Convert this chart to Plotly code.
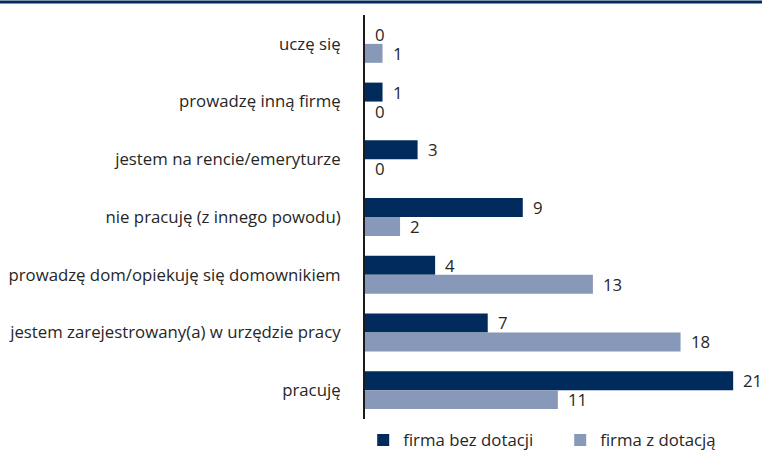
import plotly.graph_objects as go

categories = [
    "uczę się",
    "prowadzę inną firmę",
    "jestem na rencie/emeryturze",
    "nie pracuję (z innego powodu)",
    "prowadzę dom/opiekuję się domownikiem",
    "jestem zarejestrowany(a) w urzędzie pracy",
    "pracuję",
]
bez_dotacji = [0, 1, 3, 9, 4, 7, 21]
z_dotacja = [1, 0, 0, 2, 13, 18, 11]
series_names = ["firma bez dotacji", "firma z dotacją"]

DARK = "#002b5c"
LIGHT = "#8898b8"
TEXT = "#262626"
FONT = "Open Sans"
FS = 16.8

fig = go.Figure()
fig.add_trace(go.Bar(y=categories, x=bez_dotacji, name=series_names[0],
                     orientation="h", marker=dict(color=DARK, line=dict(width=0))))
fig.add_trace(go.Bar(y=categories, x=z_dotacja, name=series_names[1],
                     orientation="h", marker=dict(color=LIGHT, line=dict(width=0))))

# value labels to the right of each bar
bar_px = 19
annotations = []
for vals, shift in ((bez_dotacji, bar_px / 2), (z_dotacja, -bar_px / 2)):
    for cat, v in zip(categories, vals):
        annotations.append(dict(x=v, y=cat, text=str(v), showarrow=False,
                                xanchor="left", yanchor="middle",
                                xshift=8, yshift=shift,
                                font=dict(family=FONT, size=FS, color=TEXT)))

fig.update_layout(
    width=762, height=464,
    margin=dict(l=365, r=5, t=15, b=45),
    paper_bgcolor="white", plot_bgcolor="white",
    barmode="group", bargap=0.343, bargroupgap=0,
    font=dict(family=FONT, size=FS, color=TEXT),
    xaxis=dict(range=[0, 22.36], visible=False, fixedrange=True),
    yaxis=dict(categoryorder="array", categoryarray=categories,
               autorange="reversed", showgrid=False, zeroline=False,
               showline=True, linecolor="#1a1a1a", linewidth=2,
               ticks="", ticklabelstandoff=19,
               tickfont=dict(family=FONT, size=FS, color=TEXT)),
    legend=dict(orientation="h", x=0.498, xanchor="center", y=-0.052,
                yanchor="middle", font=dict(family=FONT, size=FS, color=TEXT),
                itemwidth=30, tracegroupgap=0,
                entrywidth=152, entrywidthmode="pixels"),
    annotations=annotations,
    shapes=[dict(type="line", xref="paper", yref="paper",
                 x0=-365 / 392, x1=397 / 392,
                 y0=(419 - 2) / 404, y1=(419 - 2) / 404,
                 line=dict(color=DARK, width=3))],
)

fig.write_html("out.html")
